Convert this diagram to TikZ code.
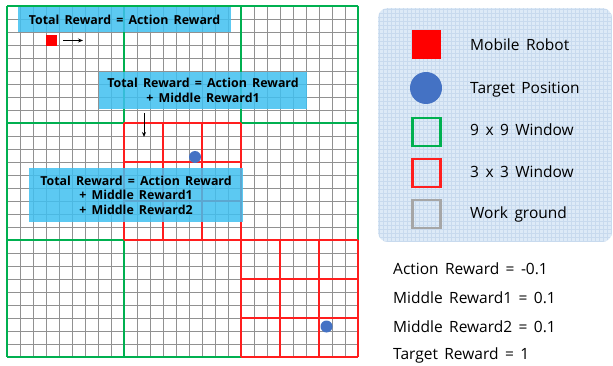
\documentclass[tikz,border=0pt]{standalone}
\usepackage{fontspec}
\setmainfont{Open Sans}[WordSpace=1.6]
\usetikzlibrary{arrows.meta}
\definecolor{wingreen}{RGB}{0,176,80}
\definecolor{winred}{RGB}{255,30,30}
\definecolor{robotred}{RGB}{255,0,0}
\definecolor{tgtblue}{RGB}{68,114,196}
\definecolor{boxcyan}{RGB}{64,192,240}
\definecolor{legfill}{RGB}{221,234,247}
\definecolor{leggrid}{RGB}{200,218,238}
\definecolor{groundgray}{RGB}{166,166,166}
\definecolor{gridgray}{RGB}{145,145,145}
\tikzset{
  gridline/.style={draw=gridgray, line width=0.8pt},
  greenwin/.style={draw=wingreen, line width=2.8pt},
  redwin/.style={draw=winred, line width=2pt},
  rewardbox/.style={fill=boxcyan, fill opacity=0.85, text opacity=1, inner sep=0pt,
     font=\fontsize{12.4}{15}\selectfont\bfseries, align=center},
  target/.style={circle, fill=tgtblue, inner sep=0pt},
  movearrow/.style={-{Stealth[length=5pt,width=4pt]}, line width=0.9pt, black},
  legtext/.style={anchor=west, inner sep=0pt, font=\fontsize{15.5}{18}\selectfont, text height=11pt, text depth=0pt},
  legsym/.style={minimum size=28pt, inner sep=0pt},
  valtext/.style={anchor=west, inner sep=0pt, font=\fontsize{15.5}{18}\selectfont, text height=11pt, text depth=0pt}
}
\begin{document}
\begin{tikzpicture}[x=1pt,y=-1pt]
\useasboundingbox (0,0) rectangle (613,366);
\fill[white] (0,0) rectangle (613,366);
% work ground grid
\foreach \i in {0,...,27} {
  \draw[gridline] (7+13*\i,6) -- (7+13*\i,357);
  \draw[gridline] (7,6+13*\i) -- (358,6+13*\i);
}
% 9x9 windows
\foreach \i in {0,...,3} {
  \draw[greenwin] (7+117*\i,6) -- (7+117*\i,357);
  \draw[greenwin] (7,6+117*\i) -- (358,6+117*\i);
}
% 3x3 windows
\foreach \i in {0,...,3} {
  \draw[redwin] (124+39*\i,123) -- (124+39*\i,240);
  \draw[redwin] (124,123+39*\i) -- (241,123+39*\i);
  \draw[redwin] (241+39*\i,240) -- (241+39*\i,357);
  \draw[redwin] (241,240+39*\i) -- (358,240+39*\i);
}
% robot and targets
\node[fill=robotred, minimum size=11pt, inner sep=0pt] (robot) at (51.5,40.5) {};
\coordinate (mvend) at (83,40.5);
\draw[movearrow] ([xshift=6pt]robot.east) -- (mvend);
\node[target, minimum size=12pt] (t1) at (195,157) {};
\node[target, minimum size=12pt] (t2) at (326.5,326.5) {};
% reward boxes
\node[rewardbox, minimum width=213pt, minimum height=25pt] (box1) at (124.5,19.5) {Total Reward = Action Reward};
\node[rewardbox, minimum width=208pt, minimum height=37pt] (box2) at (203,90.5) {Total Reward = Action Reward\\[0.5pt] + Middle Reward1};
\node[rewardbox, minimum width=214pt, minimum height=54pt] (box3) at (136,195) {Total Reward = Action Reward\\[-0.5pt] + Middle Reward1\\[-0.5pt] + Middle Reward2};
\coordinate (dn) at (144,137);
\draw[movearrow] (box2.south -| dn) ++(0,4) -- (dn);
% legend
\begin{scope}
  \path[clip, rounded corners=10pt] (378,8) rectangle (612,242);
  \fill[legfill] (378,8) rectangle (612,242);
  \foreach \k in {0,...,59} {
    \draw[leggrid, line width=0.4pt] (379+4*\k,8) -- (379+4*\k,242);
    \draw[leggrid, line width=0.4pt] (378,9+4*\k) -- (612,9+4*\k);
  }
\end{scope}
\node[legsym, fill=robotred, minimum size=29pt] (lrobot) at (426.5,44.5) {};
\node[target, minimum size=32pt] (ltarget) at (426,88) {};
\node[legsym, draw=wingreen, line width=2.6pt] (lgreen) at (426.5,132) {};
\node[legsym, draw=winred, line width=2.6pt] (lred) at (426.5,173) {};
\node[legsym, draw=groundgray, line width=2.6pt] (lgray) at (426.5,214) {};
\node[legtext] (trobot) at (470,45) {Mobile Robot};
\node[legtext] (ttarget) at (470,88) {Target Position};
\node[legtext] (tgreen) at (470,130) {9 x 9 Window};
\node[legtext] (tred) at (470,172) {3 x 3 Window};
\node[legtext] (tgray) at (470,213) {Work ground};
% reward values
\node[valtext] (v1) at (393,269) {Action Reward = -0.1};
\node[valtext] (v2) at (393,298) {Middle Reward1 = 0.1};
\node[valtext] (v3) at (393,327) {Middle Reward2 = 0.1};
\node[valtext] (v4) at (393,354) {Target Reward = 1};
\end{tikzpicture}
\end{document}
